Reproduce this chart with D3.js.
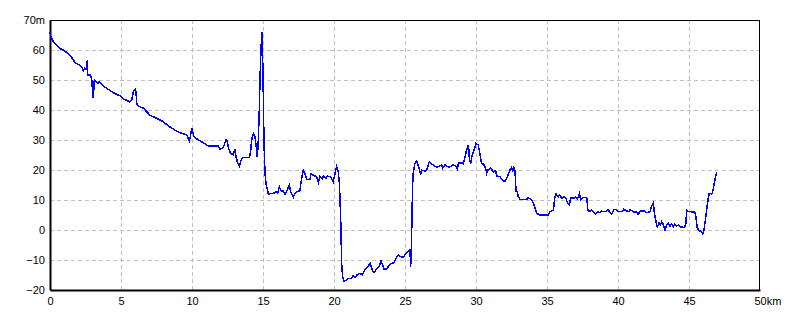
<!DOCTYPE html>
<html>
<head>
<meta charset="utf-8">
<script src="https://cdn.jsdelivr.net/npm/d3@7"></script>
<style>
  body { margin: 0; background: #fff; }
  text { font-family: "Liberation Sans", "DejaVu Sans", sans-serif; font-size: 11px; fill: #000; }
</style>
</head>
<body>
<div id="chart"></div>
<script>
// distance (km) and elevation (m)
const dist = [0, 0.05, 0.23, 0.4, 0.7, 1.0, 1.41, 1.6, 1.76, 2.0, 2.23, 2.35, 2.45, 2.55, 2.63, 2.65, 2.82, 2.93, 3.0, 3.05,
  3.12, 3.24, 3.36, 3.47, 3.6, 3.76, 4.1, 4.46, 4.7, 4.93, 5.2, 5.4, 5.59, 5.75, 5.87, 5.99, 6.06, 6.1, 6.22, 6.57,
  6.8, 7.04, 7.51, 7.98, 8.33, 8.6, 8.8, 9.27, 9.62, 9.81, 9.9, 9.98, 10.14, 10.45, 10.8, 11.15, 11.85, 11.97, 12.2, 12.39,
  12.47, 12.58, 12.7, 12.9, 13.03, 13.1, 13.19, 13.33, 13.5, 13.62, 14.04, 14.13, 14.2, 14.32, 14.44, 14.55, 14.6, 14.67, 14.74, 14.79,
  14.86, 14.93, 14.98, 15.02, 15.07, 15.14, 15.21, 15.38, 15.73, 15.92, 16.04, 16.15, 16.31, 16.43, 16.55, 16.71, 16.85, 16.95, 17.14, 17.25,
  17.41, 17.6, 17.68, 17.84, 17.96, 18.08, 18.31, 18.38, 18.66, 18.78, 18.9, 19.01, 19.19, 19.25, 19.43, 19.55, 19.78, 19.95, 20.07, 20.19,
  20.3, 20.38, 20.47, 20.54, 20.61, 20.7, 20.89, 21.0, 21.2, 21.34, 21.48, 21.62, 21.83, 22.0, 22.18, 22.42, 22.54, 22.66, 22.77, 22.89,
  23.0, 23.19, 23.31, 23.42, 23.52, 23.71, 23.89, 24.05, 24.21, 24.37, 24.53, 24.7, 24.88, 25.07, 25.23, 25.35, 25.4, 25.45, 25.49, 25.54,
  25.59, 25.7, 25.82, 25.94, 26.06, 26.1, 26.16, 26.41, 26.55, 26.71, 26.8, 26.99, 27.23, 27.4, 27.58, 27.66, 27.82, 28.1, 28.4, 28.6,
  28.69, 28.76, 29.0, 29.11, 29.23, 29.34, 29.46, 29.5, 29.53, 29.63, 29.7, 29.93, 30.0, 30.16, 30.28, 30.38, 30.56, 30.68, 30.75, 30.85,
  31.03, 31.22, 31.38, 31.46, 31.69, 31.81, 32.04, 32.16, 32.39, 32.51, 32.58, 32.68, 32.75, 32.82, 32.91, 32.98, 33.1, 33.57, 33.69, 33.9,
  34.04, 34.15, 34.27, 34.51, 35.09, 35.21, 35.45, 35.56, 35.63, 35.8, 35.9, 36.03, 36.2, 36.34, 36.45, 36.57, 36.67, 36.9, 37.0, 37.15,
  37.28, 37.38, 37.52, 37.7, 37.82, 37.86, 37.96, 38.15, 38.3, 38.42, 38.55, 38.7, 38.85, 39.0, 39.15, 39.3, 39.45, 39.56, 39.7, 39.85,
  40.0, 40.3, 40.4, 40.6, 40.75, 40.85, 41.1, 41.2, 41.3, 41.4, 41.55, 41.65, 41.85, 42.0, 42.25, 42.36, 42.49, 42.55, 42.61, 42.72,
  42.77, 42.9, 43.0, 43.07, 43.2, 43.31, 43.42, 43.54, 43.66, 43.78, 43.9, 44.0, 44.13, 44.25, 44.37, 44.56, 44.7, 44.78, 44.84, 44.96,
  45.1, 45.42, 45.49, 45.58, 45.73, 45.89, 45.96, 46.06, 46.18, 46.36, 46.43, 46.6, 46.67, 46.79, 46.95];

const elev = [66, 64.5, 62.8, 62, 60.5, 59.8, 58.3, 57, 55.8, 55.2, 54.4, 53, 54, 53.6, 56.7, 51.7, 51.7, 50.6, 46.1, 43.9,
  50, 49.4, 48.9, 49.4, 48.8, 48, 46.9, 45.8, 45.2, 44.7, 43.6, 43.3, 42.7, 43.3, 46.1, 46.9, 46, 42.2, 41.3, 40.6,
  39.5, 38.3, 37.2, 36.1, 34.7, 33.9, 33.3, 32.2, 31.7, 29.8, 31.5, 33.9, 31.1, 30, 29.1, 28, 28, 26.9, 27.5, 30,
  29.8, 27.2, 25.8, 25, 27, 24.4, 22.8, 21.3, 23.9, 24.2, 24.2, 26.1, 30, 32.2, 31.1, 26.7, 24.2, 30, 40, 50.6,
  60.6, 66.1, 56.7, 45.6, 28.9, 18.9, 15.6, 12, 12.2, 12.8, 12.2, 14.4, 12.8, 13, 12, 13.3, 15, 12.8, 10.9, 12.2,
  12.8, 13.1, 16.1, 20, 18.7, 16.9, 16.9, 18.7, 18, 17.8, 15.8, 18, 17.1, 18, 17.3, 18, 17.6, 16.1, 18.9, 21.1,
  19.4, 15.6, 3.9, -11.1, -15.6, -17, -16.7, -16.2, -16.1, -15.3, -15.8, -15, -14.4, -15, -13.3, -12, -11.1, -12.8, -14.1, -13.9,
  -12.8, -12.2, -10.2, -11.7, -13, -13, -11.7, -11.1, -10.9, -9.4, -8.3, -8.9, -9.1, -7.8, -7, -6.7, -12.2, -6, 4.4, 15.6,
  19.4, 22.2, 23, 21.3, 19.4, 18.3, 20, 19.6, 20.3, 22.8, 22.2, 21.7, 20.9, 21.3, 21.7, 20.6, 21.7, 20.9, 21.7, 21.2,
  20.3, 22.4, 22.4, 22, 24.4, 26.7, 28.3, 26.7, 23.9, 22.2, 24.4, 27.8, 28.9, 28.3, 25.3, 22.5, 21.7, 20.6, 18.9, 20,
  20.6, 19.4, 19.8, 18, 17.8, 16.9, 16.1, 17.2, 20, 20.9, 19.4, 21.1, 19.4, 12.8, 12.8, 11.1, 10.2, 10.2, 10.8, 10,
  9.1, 7.3, 5.6, 5, 5, 6.1, 6.7, 11.1, 12, 11.1, 11.7, 10.6, 11.1, 10.6, 8.9, 8.3, 10.6, 10.6, 11, 10.3,
  12.2, 10, 10.8, 10.8, 10.6, 6.9, 6.1, 6.7, 5.9, 5.4, 6.1, 5.8, 6.3, 6.1, 6.1, 6.7, 5.9, 5.4, 6.7, 6.9,
  6.1, 6.1, 6.9, 6.4, 6.1, 6.7, 6.1, 5.8, 6.1, 5.2, 6.1, 6.4, 6.4, 5.8, 6.1, 7.8, 8.9, 6.1, 4.3, 1.7,
  1.1, 2.4, 1.7, 2.8, 1.7, 0, 1.7, 2.2, 1.3, 2, 1.1, 2, 1.3, 1.7, 1.1, 0.9, 0.9, 2.2, 6.7, 6.1,
  6.1, 5.9, 4.4, 0.6, -0.2, -0.6, -1.3, 0, 4.4, 10.9, 12.2, 12, 12.8, 15.8, 19.4];

const xTicks = [0, 5, 10, 15, 20, 25, 30, 35, 40, 45, 50];
const yTicks = [-20, -10, 0, 10, 20, 30, 40, 50, 60, 70];

const width = 800, height = 320;
const plotL = 50, plotR = 760, plotT = 20, plotB = 290;

const svg = d3.select('#chart')
  .append('svg')
  .attr('width', width)
  .attr('height', height);

const x = d3.scaleLinear().domain([0, 50]).range([plotL, plotR]);
const y = d3.scaleLinear().domain([-20, 70]).range([plotB, plotT]);

// dashed grid
svg.append('g')
  .selectAll('line')
  .data(xTicks.slice(1, -1))
  .enter()
  .append('line')
  .attr('x1', d => Math.round(x(d)) + 0.5).attr('x2', d => Math.round(x(d)) + 0.5)
  .attr('y1', plotT).attr('y2', plotB)
  .attr('stroke', '#c0c0c0')
  .attr('stroke-dasharray', '4,3');

svg.append('g')
  .selectAll('line')
  .data(yTicks.slice(1, -1))
  .enter()
  .append('line')
  .attr('x1', plotL).attr('x2', plotR)
  .attr('y1', d => Math.round(y(d)) + 0.5).attr('y2', d => Math.round(y(d)) + 0.5)
  .attr('stroke', '#c0c0c0')
  .attr('stroke-dasharray', '4,3');

// frame: thin top/right, heavier left/bottom
svg.append('line').attr('x1', plotL).attr('x2', plotR).attr('y1', plotT + 0.5).attr('y2', plotT + 0.5)
  .attr('stroke', '#000');
svg.append('line').attr('x1', plotR - 0.5).attr('x2', plotR - 0.5).attr('y1', plotT).attr('y2', plotB)
  .attr('stroke', '#000');

// y axis
const yAxis = svg.append('g')
  .attr('transform', 'translate(' + plotL + ',0)')
  .call(d3.axisLeft(y).tickValues(yTicks).tickSize(0).tickPadding(5)
    .tickFormat(d => d === 70 ? '70m' : d3.format('d')(d)));
yAxis.select('.domain').attr('stroke-width', 2);
yAxis.selectAll('text').style('font-size', '11px');

// x axis
const xAxis = svg.append('g')
  .attr('transform', 'translate(0,' + plotB + ')')
  .call(d3.axisBottom(x).tickValues(xTicks).tickSize(0).tickPadding(7));
xAxis.select('.domain').attr('stroke-width', 2);
xAxis.selectAll('text').style('font-size', '11px');
// last label carries the unit after the number
xAxis.selectAll('.tick').filter(d => d === 50).select('text')
  .attr('text-anchor', 'start').attr('dx', '-0.55em')
  .text('50km');

// elevation profile, drawn aliased like the original
const line = d3.line()
  .x((d, i) => x(dist[i]))
  .y(d => y(d));

svg.append('path')
  .datum(elev)
  .attr('fill', 'none')
  .attr('stroke', '#0000ff')
  .attr('stroke-width', 1.5)
  .attr('shape-rendering', 'crispEdges')
  .attr('d', line);
</script>
</body>
</html>
